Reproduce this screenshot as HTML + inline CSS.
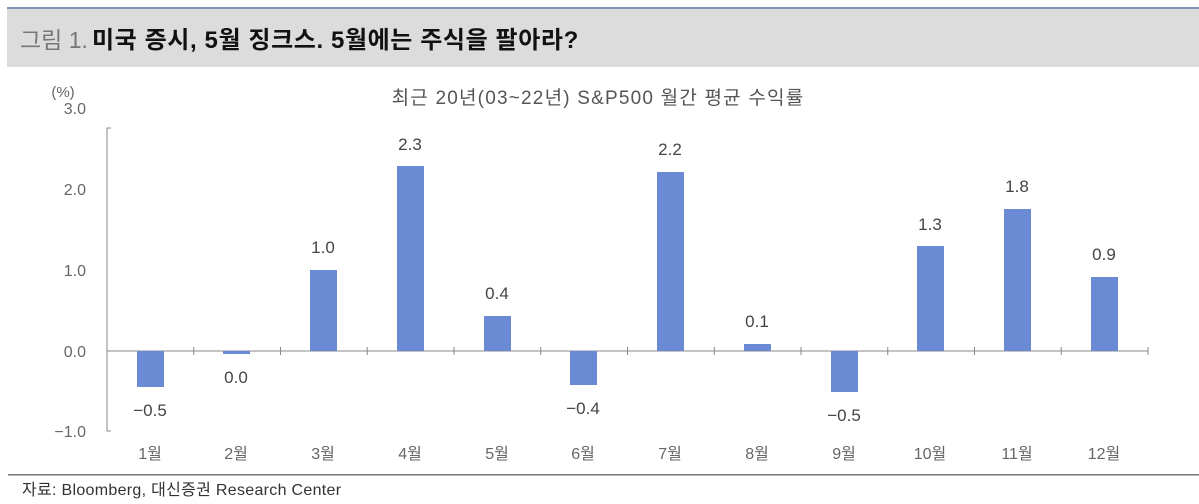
<!DOCTYPE html><html><head><meta charset="utf-8"><style>
body{margin:0;width:1199px;height:504px;background:#fff;overflow:hidden;font-family:"Liberation Sans","Noto Sans CJK KR",sans-serif}
</style></head><body>
<svg width="1199" height="504" xmlns="http://www.w3.org/2000/svg" style="position:absolute;left:0;top:0;font-family:'Liberation Sans','Noto Sans CJK KR',sans-serif">
<rect x="7" y="7" width="1192" height="2" fill="#8393b5"/>
<rect x="7" y="9" width="1192" height="58" fill="#dcdcdc"/>
<text x="20" y="48" font-size="23" fill="#777">그림 1.</text>
<text x="92" y="48" font-size="24" font-weight="bold" fill="#111" letter-spacing="0.6">미국 증시, 5월 징크스. 5월에는 주식을 팔아라?</text>
<text x="598" y="104" font-size="19" fill="#555" text-anchor="middle" letter-spacing="1.2">최근 20년(03~22년) S&amp;P500 월간 평균 수익률</text>
<text x="63" y="97" font-size="15" fill="#666" text-anchor="middle">(%)</text>
<g font-size="16" fill="#666" text-anchor="end">
<text x="86" y="114">3.0</text><text x="86" y="195">2.0</text><text x="86" y="276">1.0</text><text x="86" y="357">0.0</text><text x="86" y="437">−1.0</text></g>
<path d="M111 128H107V431H111" stroke="#888" fill="none"/>
<line x1="107" y1="351" x2="1148" y2="351" stroke="#888"/>
<g stroke="#888">
<line x1="193.75" y1="347" x2="193.75" y2="355"/><line x1="280.5" y1="347" x2="280.5" y2="355"/><line x1="367.25" y1="347" x2="367.25" y2="355"/><line x1="454" y1="347" x2="454" y2="355"/><line x1="540.75" y1="347" x2="540.75" y2="355"/><line x1="627.5" y1="347" x2="627.5" y2="355"/><line x1="714.25" y1="347" x2="714.25" y2="355"/><line x1="801" y1="347" x2="801" y2="355"/><line x1="887.75" y1="347" x2="887.75" y2="355"/><line x1="974.5" y1="347" x2="974.5" y2="355"/><line x1="1061.25" y1="347" x2="1061.25" y2="355"/><line x1="1148" y1="347" x2="1148" y2="355"/></g>
<g fill="#6a8bd3">
<rect x="137" y="351" width="27" height="36"/>
<rect x="223" y="351" width="27" height="3"/>
<rect x="310" y="270" width="27" height="81"/>
<rect x="397" y="166" width="27" height="185"/>
<rect x="484" y="316" width="27" height="35"/>
<rect x="570" y="351" width="27" height="34"/>
<rect x="657" y="172" width="27" height="179"/>
<rect x="744" y="344" width="27" height="7"/>
<rect x="831" y="351" width="27" height="41"/>
<rect x="917" y="246" width="27" height="105"/>
<rect x="1004" y="209" width="27" height="142"/>
<rect x="1091" y="277" width="27" height="74"/></g>
<g font-size="17" fill="#444" text-anchor="middle">
<text x="150" y="416">−0.5</text><text x="236" y="383">0.0</text><text x="323" y="253">1.0</text><text x="410" y="150">2.3</text><text x="497" y="299">0.4</text><text x="583" y="414">−0.4</text><text x="670" y="155">2.2</text><text x="757" y="327">0.1</text><text x="844" y="421">−0.5</text><text x="930" y="230">1.3</text><text x="1017" y="192">1.8</text><text x="1104" y="260">0.9</text></g>
<g font-size="16" fill="#666" text-anchor="middle">
<text x="150" y="459">1월</text><text x="236" y="459">2월</text><text x="323" y="459">3월</text><text x="410" y="459">4월</text><text x="497" y="459">5월</text><text x="583" y="459">6월</text><text x="670" y="459">7월</text><text x="757" y="459">8월</text><text x="844" y="459">9월</text><text x="930" y="459">10월</text><text x="1017" y="459">11월</text><text x="1104" y="459">12월</text></g>
<rect x="8" y="474" width="1191" height="1.5" fill="#777"/>
<text x="22" y="495" font-size="16" fill="#333" letter-spacing="0.3">자료: Bloomberg, 대신증권 Research Center</text>
</svg></body></html>
